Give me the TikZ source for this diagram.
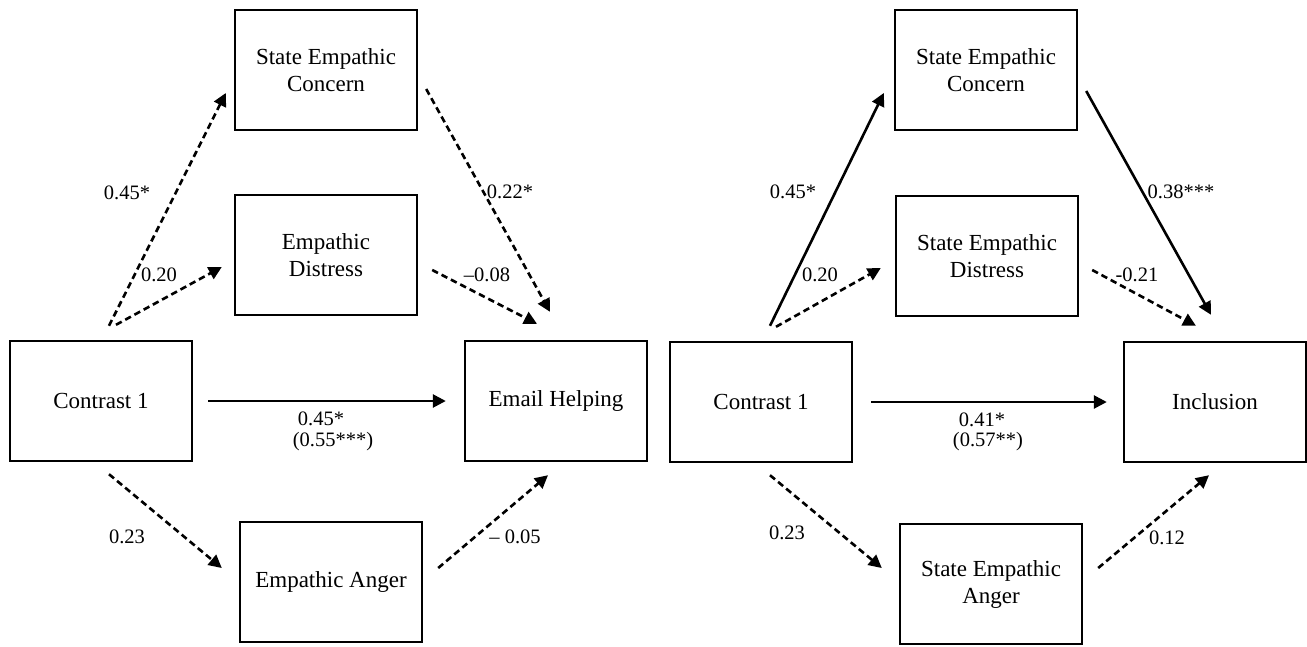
\documentclass[tikz,border=0pt]{standalone}
\usepackage{fontspec}
\setmainfont{Liberation Serif}
\usetikzlibrary{arrows.meta,positioning}

\begin{document}
\begin{tikzpicture}[x=1pt,y=-1pt,
  box/.style={draw,line width=2.4pt,minimum width=182pt,minimum height=120pt,align=center,
    font=\fontsize{23}{27}\selectfont},
  lbl/.style={font=\fontsize{20.5}{23}\selectfont,inner sep=0pt},
  solarr/.style={line width=2.6pt,-{Triangle[length=13pt,width=13pt]}},
  dasharr/.style={solarr,dash pattern=on 6.5pt off 4pt}]
\useasboundingbox (0,0) rectangle (1307,646);

%% left model
\node[box] (l_con) at (326,70) {State Empathic\\Concern};
\node[box] (l_dis) at (326,255) {Empathic\\Distress};
\node[box] (l_c1) at (101,401) {Contrast 1};
\node[box] (l_out) at (556,401) {Email Helping};
\node[box] (l_ang) at (331,582) {Empathic Anger};

\draw[dasharr] ([xshift=8pt,yshift=14pt]l_c1.north) -- ([xshift=-8pt,yshift=-23pt]l_con.west);
\draw[dasharr] ([xshift=15pt,yshift=15pt]l_c1.north) -- ([xshift=-12pt,yshift=-12pt]l_dis.west);
\draw[dasharr] ([xshift=8pt,yshift=-19pt]l_con.east) -- ([xshift=-6pt,yshift=28pt]l_out.north);
\draw[dasharr] ([xshift=14pt,yshift=-15pt]l_dis.east) -- ([xshift=-19pt,yshift=16pt]l_out.north);
\draw[solarr,shorten <=15pt,shorten >=18pt] (l_c1) -- (l_out);
\draw[dasharr] ([xshift=8pt,yshift=-12pt]l_c1.south) -- ([xshift=-17pt,yshift=14pt]l_ang.west);
\draw[dasharr] ([xshift=15pt,yshift=14pt]l_ang.east) -- ([xshift=-8pt,yshift=-13pt]l_out.south);

\node[lbl] (l_a1) at (127,193) {0.45*};
\node[lbl] (l_a2) at (159,275) {0.20};
\node[lbl] (l_b1) at (510,192) {0.22*};
\node[lbl] (l_b2) at (487,275) {–0.08};
\node[lbl] (l_cp) at (321,419) {0.45*};
\node[lbl] (l_ct) at (333,442) {(0.55***)};
\node[lbl] (l_a3) at (127,537) {0.23};
\node[lbl] (l_b3) at (515,537) {– 0.05};

%% right model
\node[box] (r_con) at (986,70) {State Empathic\\Concern};
\node[box] (r_dis) at (987,256) {State Empathic\\Distress};
\node[box] (r_c1) at (761,402) {Contrast 1};
\node[box] (r_out) at (1215,402) {Inclusion};
\node[box] (r_ang) at (991,584) {State Empathic\\Anger};

\draw[solarr] ([xshift=9pt,yshift=15pt]r_c1.north) -- ([xshift=-10pt,yshift=-23pt]r_con.west);
\draw[dasharr] ([xshift=15pt,yshift=14pt]r_c1.north) -- ([xshift=-14pt,yshift=-12pt]r_dis.west);
\draw[solarr] ([xshift=8pt,yshift=-21pt]r_con.east) -- ([xshift=-4pt,yshift=26pt]r_out.north);
\draw[dasharr] ([xshift=13pt,yshift=-14pt]r_dis.east) -- ([xshift=-19pt,yshift=15pt]r_out.north);
\draw[solarr,shorten <=18pt,shorten >=16pt] (r_c1) -- (r_out);
\draw[dasharr] ([xshift=9pt,yshift=-12pt]r_c1.south) -- ([xshift=-17pt,yshift=16pt]r_ang.west);
\draw[dasharr] ([xshift=15pt,yshift=16pt]r_ang.east) -- ([xshift=-6pt,yshift=-12pt]r_out.south);

\node[lbl] (r_a1) at (793,192) {0.45*};
\node[lbl] (r_a2) at (820,275) {0.20};
\node[lbl] (r_b1) at (1181,192) {0.38***};
\node[lbl] (r_b2) at (1137,275) {-0.21};
\node[lbl] (r_cp) at (982,420) {0.41*};
\node[lbl] (r_ct) at (988,442) {(0.57**)};
\node[lbl] (r_a3) at (787,533) {0.23};
\node[lbl] (r_b3) at (1167,538) {0.12};
\end{tikzpicture}
\end{document}
